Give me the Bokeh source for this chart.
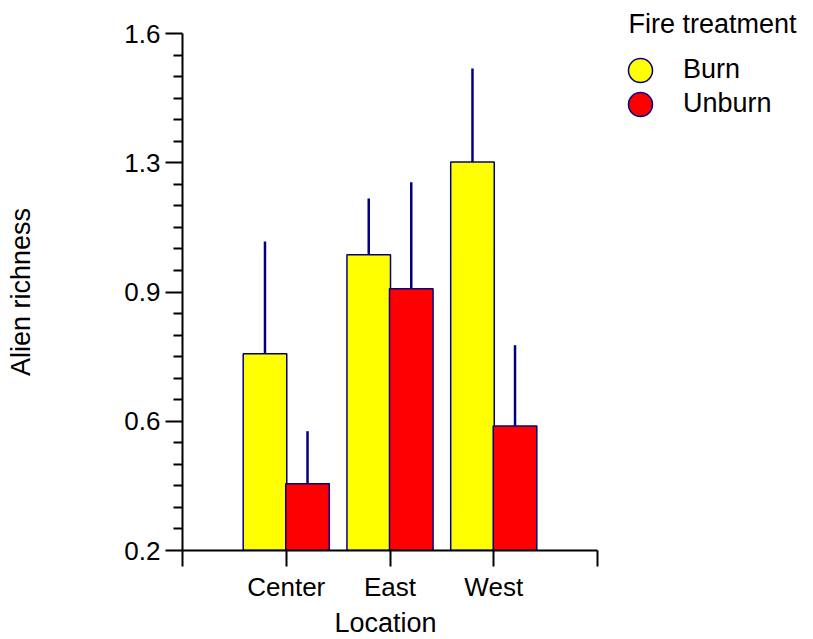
import numpy as np
from bokeh.plotting import figure
from bokeh.models import (Range1d, FixedTicker, Legend, LegendItem, Title,
                          ColumnDataSource)
from bokeh.embed import file_html
from bokeh.resources import INLINE

# ---- data ----
locations = ["Center", "East", "West"]
series = ["Burn", "Unburn"]
burn_mean = [0.733, 1.001, 1.252]
burn_se = [0.304, 0.152, 0.253]
unburn_mean = [0.381, 0.909, 0.537]
unburn_se = [0.142, 0.288, 0.219]
y_ticks = [0.2, 0.55, 0.9, 1.25, 1.6]
y_tick_labels = ["0.2", "0.6", "0.9", "1.3", "1.6"]
colors = ["#FFFF00", "#FF0000"]
legend_title = "Fire treatment"

NAVY = "#000080"
FONT = "Liberation Sans"

# geometry: axis box spans x 182..597, y 33..550; the frame is extended
# to the right edge so the legend can sit inside it
W, H = 813, 639
LEFT, AX_RIGHT, TOP, BOTTOM = 182, 597, 33, 550
x_lo, x_hi = 0.0, 4.0
x_end = x_lo + (x_hi - x_lo) * (W - LEFT) / (AX_RIGHT - LEFT)

p = figure(width=W, height=H, output_backend="svg", toolbar_location=None,
           x_range=Range1d(x_lo, x_end),
           y_range=Range1d(y_ticks[0], y_ticks[-1]),
           min_border_left=LEFT, min_border_right=0,
           min_border_top=TOP, min_border_bottom=H - BOTTOM)
p.outline_line_color = None
p.grid.visible = False
p.background_fill_color = "white"
p.border_fill_color = "white"

xpos = np.arange(1, len(locations) + 1, dtype=float)
offset = 0.205
bar_w = 0.42

src_b = ColumnDataSource(dict(x=xpos - offset, top=burn_mean,
                              up=np.array(burn_mean) + np.array(burn_se)))
src_u = ColumnDataSource(dict(x=xpos + offset, top=unburn_mean,
                              up=np.array(unburn_mean) + np.array(unburn_se)))

for src, col in ((src_b, colors[0]), (src_u, colors[1])):
    p.vbar(x="x", top="top", bottom=y_ticks[0], width=bar_w, source=src,
           fill_color=col, line_color=NAVY, line_width=1.5)
for src in (src_b, src_u):
    p.segment(x0="x", y0="top", x1="x", y1="up", source=src,
              line_color=NAVY, line_width=2.5)

# ---- axes ----
yax = p.yaxis[0]
minor = []
for a, b in zip(y_ticks[:-1], y_ticks[1:]):
    minor.extend(list(np.linspace(a, b, 7)[1:-1]))
yax.ticker = FixedTicker(ticks=y_ticks, minor_ticks=minor)
yax.major_label_overrides = dict(zip(y_ticks, y_tick_labels))
yax.axis_label = "Alien richness"
yax.major_tick_out = 17
yax.major_tick_in = 0
yax.minor_tick_out = 9
yax.minor_tick_in = 0
yax.major_label_standoff = 5
yax.axis_label_standoff = 85

xax = p.xaxis[0]
xax.ticker = FixedTicker(ticks=[0, 1, 2, 3, 4], minor_ticks=[])
xax.major_label_overrides = {0: "", 1: locations[0], 2: locations[1],
                             3: locations[2], 4: ""}
xax.bounds = (x_lo, x_hi)
xax.major_tick_out = 16
xax.major_tick_in = 0
xax.major_label_standoff = 5

for ax in (xax, yax):
    ax.axis_line_color = "black"
    ax.axis_line_width = 2
    ax.major_tick_line_color = "black"
    ax.major_tick_line_width = 2
    ax.minor_tick_line_color = "black"
    ax.minor_tick_line_width = 2
    ax.major_label_text_font = FONT
    ax.major_label_text_font_size = "26px"
    ax.major_label_text_color = "black"
    ax.axis_label_text_font = FONT
    ax.axis_label_text_font_size = "27px"
    ax.axis_label_text_font_style = "normal"
    ax.axis_label_text_color = "black"

# x-axis title, centred under the axis box (not the extended frame)
p.add_layout(Title(text="Location", align="left", offset=152, standoff=2,
                   vertical_align="bottom", text_font=FONT,
                   text_font_size="27px", text_font_style="normal",
                   text_color="black"), "below")

# ---- legend (inside the extended frame) ----
leg_r = [p.ellipse(x=[np.nan], y=[np.nan], width=24, height=24,
                   width_units="screen", height_units="screen",
                   fill_color=c, line_color=NAVY, line_width=1.5)
         for c in colors]
legend = Legend(items=[LegendItem(label=s, renderers=[r])
                       for s, r in zip(series, leg_r)],
                location=(443, 431), orientation="vertical",
                glyph_width=30, glyph_height=30, spacing=3,
                label_standoff=28, padding=0, margin=0,
                border_line_color=None, background_fill_alpha=0,
                label_text_font=FONT, label_text_font_size="27px",
                label_text_color="black")
p.add_layout(legend)

p.title = Title(text=legend_title, align="left", offset=446, standoff=-10,
                vertical_align="bottom", text_font=FONT,
                text_font_size="27px", text_font_style="normal",
                text_color="black")

open("out.html", "w").write(file_html(p, INLINE))
